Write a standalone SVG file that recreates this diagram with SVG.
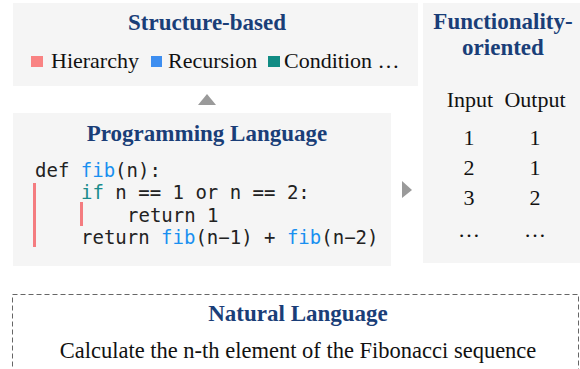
<svg xmlns="http://www.w3.org/2000/svg" width="580" height="369" viewBox="0 0 580 369">
<style>
.box{fill:#f5f5f5;stroke:none}
.title{font-family:"Liberation Serif","Times New Roman",serif;font-weight:bold;font-size:23px;fill:#1a3e78;text-anchor:middle}
.txt{font-family:"Liberation Serif","Times New Roman",serif;font-size:22px;fill:#111}
.mid{text-anchor:middle}
.code{font-family:"DejaVu Sans Mono",monospace;font-size:19px;fill:#222;white-space:pre}
.fn{fill:#1a90f0}
.kw{fill:#1a8c8c}
.bar{fill:#f47c80}
.arrow{fill:#9a9a9a}
</style>
<g id="structure">
<rect class="box" x="13" y="3" width="405" height="83"/>
<text class="title" x="207" y="30">Structure-based</text>
<rect x="31" y="56" width="12" height="11" fill="#f98383"/>
<text class="txt" x="51" y="68">Hierarchy</text>
<rect x="151" y="56" width="11" height="11" fill="#3d8ef0"/>
<text class="txt" x="168" y="68">Recursion</text>
<rect x="268" y="56" width="12" height="11" fill="#118c84"/>
<text class="txt" x="284" y="68">Condition …</text>
</g>
<g id="functionality">
<rect class="box" x="423" y="3" width="157" height="260"/>
<text class="title" x="503" y="29">Functionality-</text>
<text class="title" x="503" y="55">oriented</text>
<text class="txt mid" x="470" y="107">Input</text>
<text class="txt mid" x="535" y="107">Output</text>
<text class="txt mid" x="469" y="145">1</text>
<text class="txt mid" x="535" y="145">1</text>
<text class="txt mid" x="469" y="175">2</text>
<text class="txt mid" x="535" y="175">1</text>
<text class="txt mid" x="469" y="205">3</text>
<text class="txt mid" x="535" y="205">2</text>
<text class="txt mid" x="469" y="237">…</text>
<text class="txt mid" x="535" y="237">…</text>
</g>
<g id="programming">
<rect class="box" x="13" y="113" width="378" height="153"/>
<text class="title" x="207" y="141">Programming Language</text>
<rect class="bar" x="33" y="183" width="3" height="64"/>
<rect class="bar" x="80" y="202" width="3" height="24"/>
<text class="code" x="35" y="177">def <tspan class="fn">fib</tspan>(n):</text>
<text class="code" x="81" y="199"><tspan class="kw">if</tspan> n == 1 or n == 2:</text>
<text class="code" x="127" y="222">return 1</text>
<text class="code" x="81" y="244">return <tspan class="fn">fib</tspan>(n−1) + <tspan class="fn">fib</tspan>(n−2)</text>
</g>
<g id="natural">
<rect x="12.5" y="294.5" width="566" height="90" fill="none" stroke="#666" stroke-width="1" stroke-dasharray="5,3"/>
<text class="title" x="298" y="321">Natural Language</text>
<text class="txt mid" x="298" y="358" style="font-size:22.5px">Calculate the n-th element of the Fibonacci sequence</text>
</g>
<g id="connectors">
<polygon class="arrow" points="207,94 216,105 198,105"/>
<polygon class="arrow" points="412,190 402,181 402,198"/>
</g>
</svg>
